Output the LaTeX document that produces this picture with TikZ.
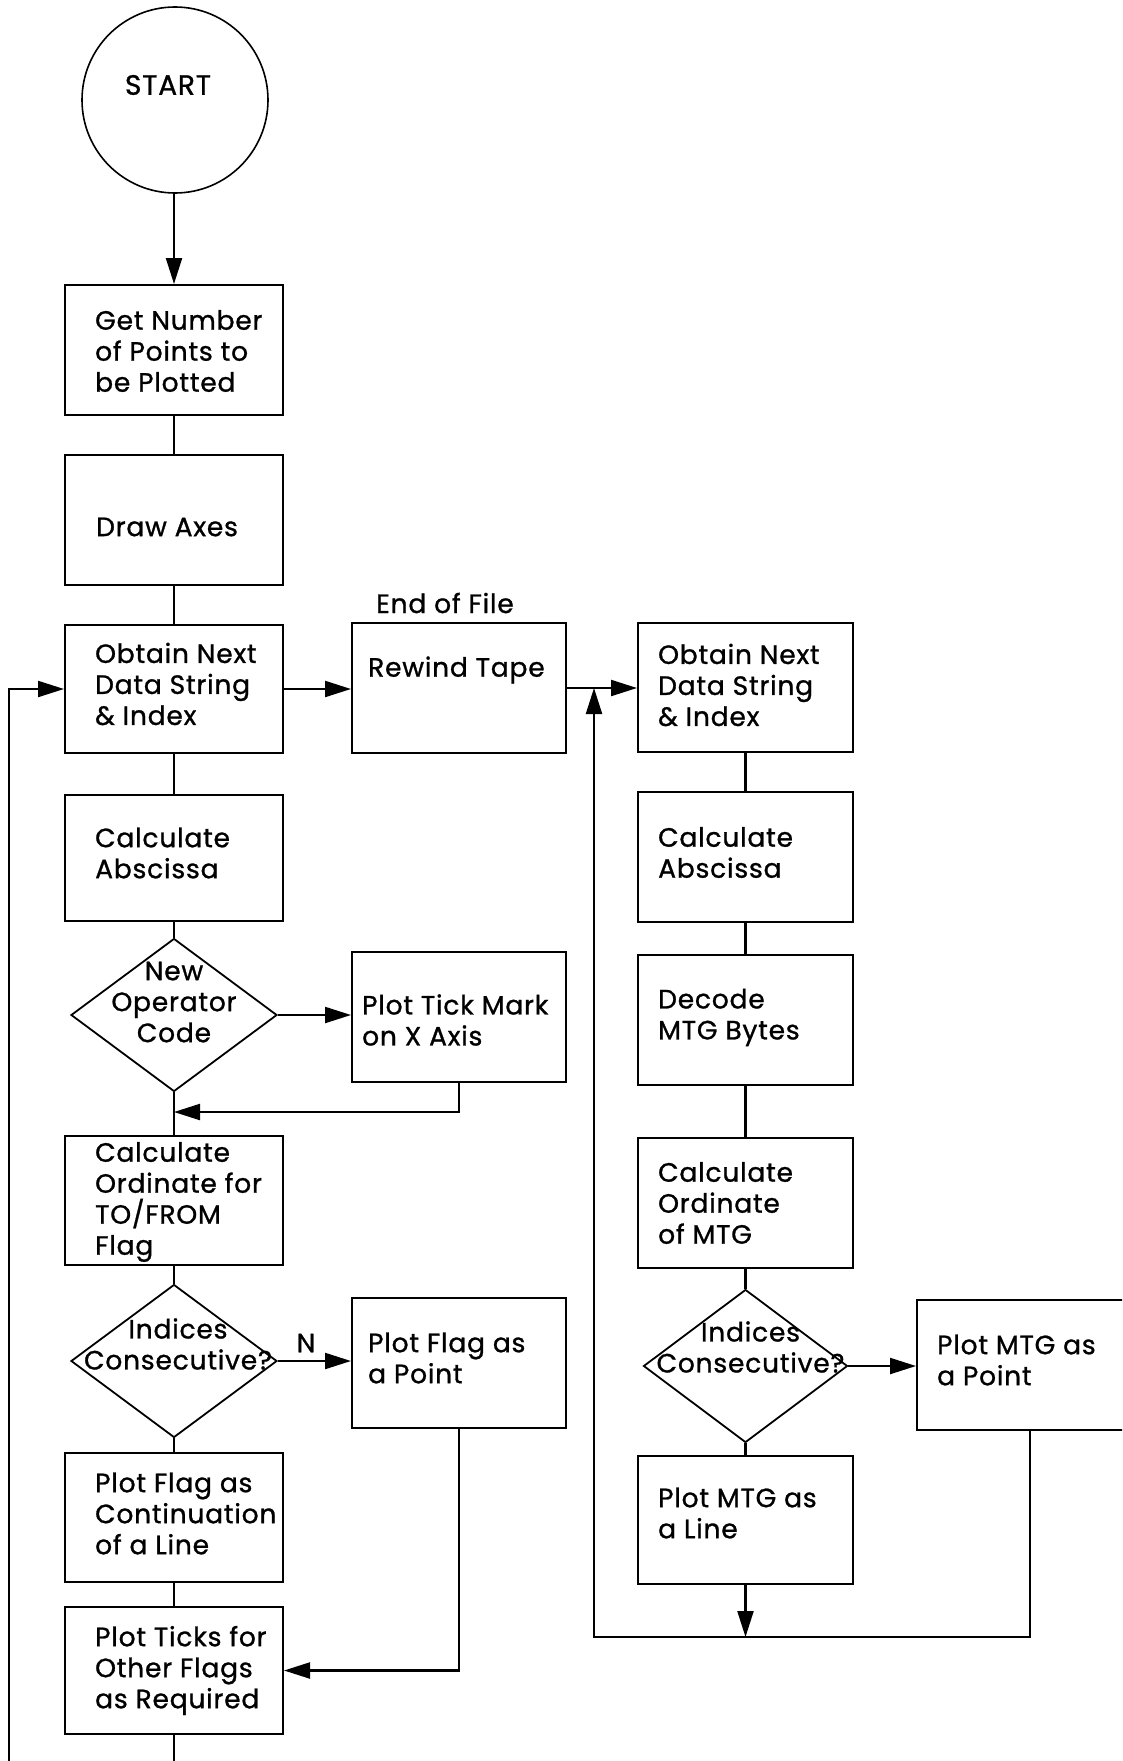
\documentclass[tikz,border=0pt]{standalone}
\usepackage{fontspec}
\setmainfont{Poppins}[LetterSpace=3,FakeBold=1]
\usetikzlibrary{shapes.geometric,arrows.meta,calc}
\newcommand\flowfont{\fontsize{26.5}{31}\selectfont}
\tikzset{
  box/.style={draw, line width=2pt, inner sep=0pt, minimum width=218pt},
  dia/.style={draw, diamond, line width=1.8pt, inner sep=0pt, minimum width=206pt, minimum height=153pt},
  txt/.style={inner sep=0pt, align=left, anchor=west, font=\flowfont},
  ctxt/.style={inner sep=0pt, align=center, font=\flowfont},
  conn/.style={line width=2.2pt},
  arr/.style={line width=2.2pt, -{Triangle[length=26pt,width=16pt]}},
}
\begin{document}
\begin{tikzpicture}[x=1pt,y=-1pt]
\useasboundingbox (0,0) rectangle (1122,1761);
\clip (0,0) rectangle (1122,1761);
\fill[white] (0,0) rectangle (1122,1761);

% start
\node[draw, circle, line width=1.6pt, minimum size=186pt, inner sep=0pt] (start) at (175,100) {};
\node[inner sep=0pt, font=\fontsize{28}{32}\selectfont] (tstart) at (168,85) {START};

% left column
\node[box, minimum height=130pt] (b1) at (174,350) {};
\node[box, minimum height=130pt] (b2) at (174,520) {};
\node[box, minimum height=128pt] (b3) at (174,689) {};
\node[box, minimum height=126pt] (b4) at (174,858) {};
\node[dia] (d1) at (174,1015) {};
\node[box, minimum height=129pt] (b5) at (174,1200.5) {};
\node[dia] (d2) at (174,1361) {};
\node[box, minimum height=129pt] (b6) at (174,1517.5) {};
\node[box, minimum height=127pt] (b7) at (174,1670.5) {};

% middle column
\node[box, minimum width=214pt, minimum height=130pt] (rew) at (459,688) {};
\node[box, minimum width=214pt, minimum height=130pt] (pt) at (459,1017) {};
\node[box, minimum width=214pt, minimum height=130pt] (pfp) at (459,1363) {};

% right column
\node[box, minimum width=215pt, minimum height=129pt] (obR) at (745.5,687.5) {};
\node[box, minimum width=215pt, minimum height=130pt] (caR) at (745.5,857) {};
\node[box, minimum width=215pt, minimum height=130pt] (dec) at (745.5,1020) {};
\node[box, minimum width=215pt, minimum height=130pt] (coR) at (745.5,1203) {};
\node[dia, minimum width=204pt] (dR) at (745.5,1366) {};
\node[box, minimum width=215pt, minimum height=128pt] (pml) at (745.5,1520) {};
\node[box, minimum width=226pt, minimum height=130pt] (pmp) at (1030,1365) {};

% texts
\node[txt] (t1) at ([shift={(31,1)}]b1.west) {Get Number\\of Points to\\be Plotted};
\node[txt] (t2) at ([shift={(32,7)}]b2.west) {Draw Axes};
\node[txt] (t3) at ([shift={(31,-5)}]b3.west) {Obtain Next\\Data String\\\& Index};
\node[txt] (t4) at ([shift={(31,-5)}]b4.west) {Calculate\\Abscissa};
\node[ctxt] (td1) at ([shift={(0,-13)}]d1.center) {New\\Operator\\Code};
\node[txt] (t5) at ([shift={(31,1.5)}]b5.west) {Calculate\\Ordinate for\\TO/FROM\\Flag};
\node[ctxt] (td2) at ([shift={(4,-17)}]d2.center) {Indices\\Consecutive?};
\node[txt] (t6) at ([shift={(31,-4)}]b6.west) {Plot Flag as\\Continuation\\of a Line};
\node[txt] (t7) at ([shift={(31,0)}]b7.west) {Plot Ticks for\\Other Flags\\as Required};

\node[txt] (trew) at ([shift={(17,-18)}]rew.west) {Rewind Tape};
\node[ctxt] (teof) at (445,603) {End of File};
\node[txt] (tpt) at ([shift={(11,3)}]pt.west) {Plot Tick Mark\\on X Axis};
\node[txt] (tpfp) at ([shift={(17,-5)}]pfp.west) {Plot Flag as\\a Point};
\node[ctxt] (tN) at (306,1343) {N};

\node[txt] (tobR) at ([shift={(21,-2.5)}]obR.west) {Obtain Next\\Data String\\\& Index};
\node[txt] (tcaR) at ([shift={(21,-4.5)}]caR.west) {Calculate\\Abscissa};
\node[txt] (tdec) at ([shift={(21,-2.5)}]dec.west) {Decode\\MTG Bytes};
\node[txt] (tcoR) at ([shift={(21,0)}]coR.west) {Calculate\\Ordinate\\of MTG};
\node[ctxt] (tdR) at ([shift={(5,-19)}]dR.center) {Indices\\Consecutive?};
\node[txt] (tpml) at ([shift={(21,-7)}]pml.west) {Plot MTG as\\a Line};
\node[txt] (tpmp) at ([shift={(21,-5)}]pmp.west) {Plot MTG as\\a Point};

% coordinates
\coordinate (botC) at (174,1766);
\coordinate (botL) at (9,1766);
\coordinate (j1) at (174,1112);
\coordinate (loopbot) at (594,1637);

% connectors left column
\draw[arr] (start.south -| b1.north) -- (b1.north);
\draw[conn] (b1.south) -- (b2.north);
\draw[conn] (b2.south) -- (b3.north);
\draw[conn] (b3.south) -- (b4.north);
\draw[conn] (b4.south) -- (d1.north);
\draw[conn] (d1.south) -- (b5.north);
\draw[arr] (d1.east) -- (d1.east -| pt.west);
\draw[arr] (pt.south) |- (j1);
\draw[conn] (b5.south) -- (d2.north);
\draw[arr] (d2.east) -- (d2.east -| pfp.west);
\draw[conn] (d2.south) -- (b6.north);
\draw[conn] (b6.south) -- (b7.north);
\draw[arr] (pfp.south) |- (b7.east);
\draw[conn] (b7.south) -- (botC);
\draw[arr] (botL) |- (b3.west);

% connectors middle / right
\draw[arr] (b3.east) -- (b3.east -| rew.west);
\draw[arr] (rew.east) -- (rew.east -| obR.west);
\draw[conn] (obR.south) -- (caR.north);
\draw[conn] (caR.south) -- (dec.north);
\draw[conn] (dec.south) -- (coR.north);
\draw[conn] (coR.south) -- (dR.north);
\draw[conn] (dR.south) -- (pml.north);
\draw[arr] (dR.east) -- (dR.east -| pmp.west);
\draw[arr] (pml.south) -- (pml.south |- loopbot);
\draw[arr] (pmp.south) |- (loopbot) -- (loopbot |- rew.east);
\end{tikzpicture}
\end{document}
